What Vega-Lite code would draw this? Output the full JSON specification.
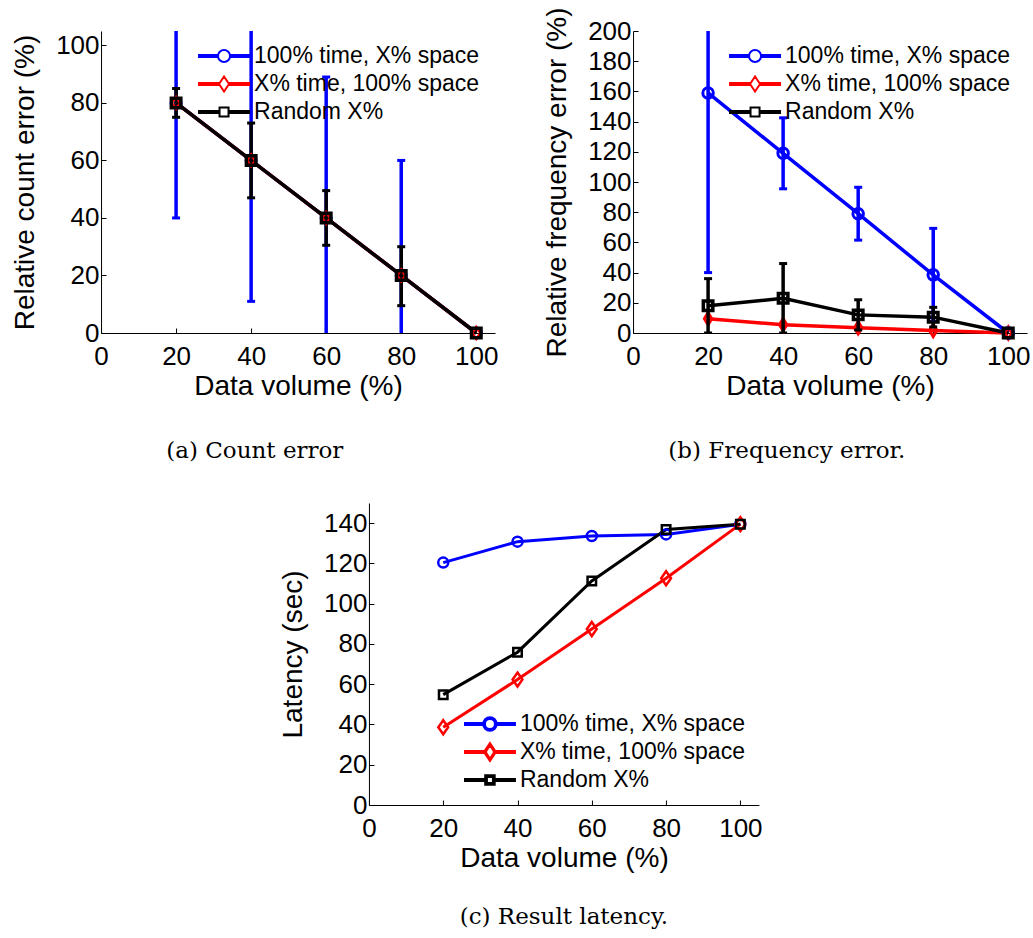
{
"$schema":"https://vega.github.io/schema/vega-lite/v6.json",
"background":"white",
"padding":{"left":11,"top":6,"right":5,"bottom":5},
"datasets":{
"count":[
{"series":"100% time, X% space","x":20,"y":80,"lo":40,"hi":120},
{"series":"100% time, X% space","x":40,"y":60,"lo":11,"hi":109},
{"series":"100% time, X% space","x":60,"y":40,"lo":-9,"hi":89},
{"series":"100% time, X% space","x":80,"y":20,"lo":-20,"hi":60},
{"series":"100% time, X% space","x":100,"y":0},
{"series":"X% time, 100% space","x":20,"y":80},
{"series":"X% time, 100% space","x":40,"y":60},
{"series":"X% time, 100% space","x":60,"y":40},
{"series":"X% time, 100% space","x":80,"y":20},
{"series":"X% time, 100% space","x":100,"y":0},
{"series":"Random X%","x":20,"y":80,"lo":75,"hi":85},
{"series":"Random X%","x":40,"y":60,"lo":47,"hi":73},
{"series":"Random X%","x":60,"y":40,"lo":30.5,"hi":49.5},
{"series":"Random X%","x":80,"y":20,"lo":9.5,"hi":30},
{"series":"Random X%","x":100,"y":0}
],
"freq":[
{"series":"100% time, X% space","x":20,"y":159,"lo":40,"hi":278},
{"series":"100% time, X% space","x":40,"y":119,"lo":95.5,"hi":142.5},
{"series":"100% time, X% space","x":60,"y":79,"lo":61.5,"hi":96.5},
{"series":"100% time, X% space","x":80,"y":38.5,"lo":7.7,"hi":69.3},
{"series":"100% time, X% space","x":100,"y":0},
{"series":"X% time, 100% space","x":20,"y":9.5},
{"series":"X% time, 100% space","x":40,"y":5.5},
{"series":"X% time, 100% space","x":60,"y":3.5},
{"series":"X% time, 100% space","x":80,"y":1.7},
{"series":"X% time, 100% space","x":100,"y":0},
{"series":"Random X%","x":20,"y":18,"lo":0,"hi":36},
{"series":"Random X%","x":40,"y":23,"lo":0,"hi":46},
{"series":"Random X%","x":60,"y":12,"lo":2,"hi":22},
{"series":"Random X%","x":80,"y":10.5,"lo":4,"hi":17},
{"series":"Random X%","x":100,"y":0}
],
"latency":[
{"series":"100% time, X% space","x":20,"y":120.4},
{"series":"100% time, X% space","x":40,"y":130.8},
{"series":"100% time, X% space","x":60,"y":133.6},
{"series":"100% time, X% space","x":80,"y":134.4},
{"series":"100% time, X% space","x":100,"y":139.5},
{"series":"X% time, 100% space","x":20,"y":38.6},
{"series":"X% time, 100% space","x":40,"y":62.3},
{"series":"X% time, 100% space","x":60,"y":87.4},
{"series":"X% time, 100% space","x":80,"y":112.6},
{"series":"X% time, 100% space","x":100,"y":139.5},
{"series":"Random X%","x":20,"y":54.8},
{"series":"Random X%","x":40,"y":75.9},
{"series":"Random X%","x":60,"y":111.3},
{"series":"Random X%","x":80,"y":136.8},
{"series":"Random X%","x":100,"y":139.5}
]
},
"vconcat":[
{"hconcat":[
{
"width":394,"height":302,
"data":{"name":"count"},
"title":{"text":"(a) Count error","orient":"bottom","anchor":"middle","frame":"bounds","offset":40},
"encoding":{
"x":{"field":"x","type":"quantitative","scale":{"domain":[0,105],"nice":false,"zero":false},"axis":{"values":[0,20,40,60,80,100]},"title":"Data volume (%)"},
"y":{"field":"y","type":"quantitative","scale":{"domain":[0,105],"nice":false,"zero":false},"axis":{"values":[0,20,40,60,80,100]},"title":"Relative count error (%)"}
},
"layer":[
{"encoding":{"stroke":{"field":"series","type":"nominal","scale":{"domain":["Random X%","X% time, 100% space","100% time, X% space"],"range":["#000000","#ff0000","#0000ff"]},"legend":null}},
"layer":[
{"transform":[{"filter":"isValid(datum.lo)"}],"mark":{"type":"rule","strokeWidth":3.5,"clip":true},"encoding":{"y":{"field":"lo","type":"quantitative","scale":{"domain":[0,105],"nice":false,"zero":false},"title":"Relative count error (%)"},"y2":{"field":"hi"}}},
{"transform":[{"filter":"isValid(datum.lo)"}],"mark":{"type":"point","shape":"M-1,0H1","size":64,"strokeWidth":3,"filled":false,"opacity":1,"clip":true},"encoding":{"y":{"field":"lo","type":"quantitative","scale":{"domain":[0,105],"nice":false,"zero":false},"title":"Relative count error (%)"}}},
{"transform":[{"filter":"isValid(datum.hi)"}],"mark":{"type":"point","shape":"M-1,0H1","size":64,"strokeWidth":3,"filled":false,"opacity":1,"clip":true},"encoding":{"y":{"field":"hi","type":"quantitative","scale":{"domain":[0,105],"nice":false,"zero":false},"title":"Relative count error (%)"}}},
{"mark":{"type":"line","strokeWidth":3.5}},
{"transform":[{"filter":"datum.series === '100% time, X% space'"}],"mark":{"type":"point","shape":"circle","size":100,"strokeWidth":3,"filled":false,"opacity":1}},
{"transform":[{"filter":"datum.series === 'X% time, 100% space'"}],"mark":{"type":"point","shape":"M0,-1L0.7,0L0,1L-0.7,0Z","size":144,"strokeWidth":2.5,"filled":false,"opacity":1}},
{"transform":[{"filter":"datum.series === 'Random X%'"}],"mark":{"type":"point","shape":"square","size":90,"strokeWidth":3.5,"filled":false,"opacity":1}}
]},
{"mark":{"type":"point","opacity":0,"filled":false},"encoding":{
"color":{"field":"series","type":"nominal","scale":{"domain":["100% time, X% space","X% time, 100% space","Random X%"],"range":["#0000ff","#ff0000","#000000"]},"legend":{"title":null,"orient":"none","legendX":97,"legendY":13,"symbolSize":2500,"symbolStrokeWidth":2,"symbolOpacity":1,"symbolFillColor":"transparent","labelFont":"Liberation Sans","labelFontSize":23,"labelColor":"#000","labelLimit":500,"clipHeight":24,"rowPadding":4,"labelOffset":4,"padding":0}},
"shape":{"field":"series","type":"nominal","scale":{"domain":["100% time, X% space","X% time, 100% space","Random X%"],"range":["M-1,-0.04H-0.24V0.04H-1Z M0.24,-0.04H1V0.04H0.24Z M0.24,0A0.24,0.24,0,1,1,-0.24,0A0.24,0.24,0,1,1,0.24,0Z","M-1,-0.04H-0.2V0.04H-1Z M0.2,-0.04H1V0.04H0.2Z M0,-0.3L0.2,0L0,0.3L-0.2,0Z","M-1,-0.04H-0.18V0.04H-1Z M0.18,-0.04H1V0.04H0.18Z M-0.18,-0.18H0.18V0.18H-0.18Z"]},"legend":{"title":null,"orient":"none","legendX":97,"legendY":13,"symbolSize":2500,"symbolStrokeWidth":2,"symbolOpacity":1,"symbolFillColor":"transparent","labelFont":"Liberation Sans","labelFontSize":23,"labelColor":"#000","labelLimit":500,"clipHeight":24,"rowPadding":4,"labelOffset":4,"padding":0}}
}}
]
},
{
"width":394,"height":302,
"data":{"name":"freq"},
"title":{"text":"(b) Frequency error.","orient":"bottom","anchor":"middle","frame":"bounds","offset":40},
"encoding":{
"x":{"field":"x","type":"quantitative","scale":{"domain":[0,105],"nice":false,"zero":false},"axis":{"values":[0,20,40,60,80,100]},"title":"Data volume (%)"},
"y":{"field":"y","type":"quantitative","scale":{"domain":[0,200],"nice":false,"zero":false},"axis":{"values":[0,20,40,60,80,100,120,140,160,180,200]},"title":"Relative frequency error (%)"}
},
"layer":[
{"encoding":{"stroke":{"field":"series","type":"nominal","scale":{"domain":["Random X%","X% time, 100% space","100% time, X% space"],"range":["#000000","#ff0000","#0000ff"]},"legend":null}},
"layer":[
{"mark":{"type":"line","strokeWidth":3.5}},
{"transform":[{"filter":"datum.series === 'X% time, 100% space'"}],"mark":{"type":"point","shape":"M0,-1L0.6,0L0,1L-0.6,0Z","size":150,"strokeWidth":3,"filled":false,"opacity":1}},
{"transform":[{"filter":"isValid(datum.lo)"}],"mark":{"type":"rule","strokeWidth":3.5,"clip":true},"encoding":{"y":{"field":"lo","type":"quantitative","scale":{"domain":[0,200],"nice":false,"zero":false},"title":"Relative frequency error (%)"},"y2":{"field":"hi"}}},
{"transform":[{"filter":"isValid(datum.lo)"}],"mark":{"type":"point","shape":"M-1,0H1","size":64,"strokeWidth":3,"filled":false,"opacity":1,"clip":true},"encoding":{"y":{"field":"lo","type":"quantitative","scale":{"domain":[0,200],"nice":false,"zero":false},"title":"Relative frequency error (%)"}}},
{"transform":[{"filter":"isValid(datum.hi)"}],"mark":{"type":"point","shape":"M-1,0H1","size":64,"strokeWidth":3,"filled":false,"opacity":1,"clip":true},"encoding":{"y":{"field":"hi","type":"quantitative","scale":{"domain":[0,200],"nice":false,"zero":false},"title":"Relative frequency error (%)"}}},
{"transform":[{"filter":"datum.series === '100% time, X% space'"}],"mark":{"type":"point","shape":"circle","size":110,"strokeWidth":3,"filled":false,"opacity":1}},
{"transform":[{"filter":"datum.series === 'Random X%'"}],"mark":{"type":"point","shape":"square","size":90,"strokeWidth":3.5,"filled":false,"opacity":1}}
]},
{"mark":{"type":"point","opacity":0,"filled":false},"encoding":{
"color":{"field":"series","type":"nominal","scale":{"domain":["100% time, X% space","X% time, 100% space","Random X%"],"range":["#0000ff","#ff0000","#000000"]},"legend":{"title":null,"orient":"none","legendX":96,"legendY":13,"symbolSize":2500,"symbolStrokeWidth":2,"symbolOpacity":1,"symbolFillColor":"transparent","labelFont":"Liberation Sans","labelFontSize":23,"labelColor":"#000","labelLimit":500,"clipHeight":24,"rowPadding":4,"labelOffset":4,"padding":0}},
"shape":{"field":"series","type":"nominal","scale":{"domain":["100% time, X% space","X% time, 100% space","Random X%"],"range":["M-1,-0.04H-0.24V0.04H-1Z M0.24,-0.04H1V0.04H0.24Z M0.24,0A0.24,0.24,0,1,1,-0.24,0A0.24,0.24,0,1,1,0.24,0Z","M-1,-0.04H-0.2V0.04H-1Z M0.2,-0.04H1V0.04H0.2Z M0,-0.3L0.2,0L0,0.3L-0.2,0Z","M-1,-0.04H-0.18V0.04H-1Z M0.18,-0.04H1V0.04H0.18Z M-0.18,-0.18H0.18V0.18H-0.18Z"]},"legend":{"title":null,"orient":"none","legendX":96,"legendY":13,"symbolSize":2500,"symbolStrokeWidth":2,"symbolOpacity":1,"symbolFillColor":"transparent","labelFont":"Liberation Sans","labelFontSize":23,"labelColor":"#000","labelLimit":500,"clipHeight":24,"rowPadding":4,"labelOffset":4,"padding":0}}
}}
]
}
],"spacing":45,
"resolve":{"scale":{"color":"independent","shape":"independent","stroke":"independent"},"legend":{"color":"independent","shape":"independent","stroke":"independent"}}},
{
"width":390,"height":302,
"data":{"name":"latency"},
"title":{"text":"(c) Result latency.","orient":"bottom","anchor":"middle","frame":"group","offset":34},
"encoding":{
"x":{"field":"x","type":"quantitative","scale":{"domain":[0,105],"nice":false,"zero":false},"axis":{"values":[0,20,40,60,80,100]},"title":"Data volume (%)"},
"y":{"field":"y","type":"quantitative","scale":{"domain":[0,150],"nice":false,"zero":false},"axis":{"values":[0,20,40,60,80,100,120,140]},"title":"Latency (sec)"}
},
"layer":[
{"encoding":{"stroke":{"field":"series","type":"nominal","scale":{"domain":["Random X%","X% time, 100% space","100% time, X% space"],"range":["#000000","#ff0000","#0000ff"]},"legend":null}},
"layer":[
{"mark":{"type":"line","strokeWidth":3}},
{"transform":[{"filter":"datum.series === '100% time, X% space'"}],"mark":{"type":"point","shape":"circle","size":100,"strokeWidth":2.5,"filled":false,"opacity":1}},
{"transform":[{"filter":"datum.series === 'X% time, 100% space'"}],"mark":{"type":"point","shape":"M0,-1L0.7,0L0,1L-0.7,0Z","size":196,"strokeWidth":2.5,"filled":false,"opacity":1}},
{"transform":[{"filter":"datum.series === 'Random X%'"}],"mark":{"type":"point","shape":"square","size":72,"strokeWidth":2.5,"filled":false,"opacity":1}}
]},
{"mark":{"type":"point","opacity":0,"filled":false},"encoding":{
"color":{"field":"series","type":"nominal","scale":{"domain":["100% time, X% space","X% time, 100% space","Random X%"],"range":["#0000ff","#ff0000","#000000"]},"legend":{"title":null,"orient":"none","legendX":95,"legendY":209,"symbolSize":2500,"symbolStrokeWidth":2,"symbolOpacity":1,"symbolFillColor":"transparent","labelFont":"Liberation Sans","labelFontSize":23,"labelColor":"#000","labelLimit":500,"clipHeight":24,"rowPadding":4,"labelOffset":4,"padding":0}},
"shape":{"field":"series","type":"nominal","scale":{"domain":["100% time, X% space","X% time, 100% space","Random X%"],"range":["M-1,-0.04H-0.27V0.04H-1Z M0.27,-0.04H1V0.04H0.27Z M0.27,0A0.27,0.27,0,1,1,-0.27,0A0.27,0.27,0,1,1,0.27,0Z M0.2,0A0.2,0.2,0,1,1,-0.2,0A0.2,0.2,0,1,1,0.2,0Z","M-1,-0.04H-0.24V0.04H-1Z M0.24,-0.04H1V0.04H0.24Z M0,-0.36L0.24,0L0,0.36L-0.24,0Z M0,-0.27L0.17,0L0,0.27L-0.17,0Z","M-1,-0.04H-0.19V0.04H-1Z M0.19,-0.04H1V0.04H0.19Z M-0.19,-0.19H0.19V0.19H-0.19Z M-0.12,-0.12H0.12V0.12H-0.12Z"]},"legend":{"title":null,"orient":"none","legendX":95,"legendY":209,"symbolSize":2500,"symbolStrokeWidth":2,"symbolOpacity":1,"symbolFillColor":"transparent","labelFont":"Liberation Sans","labelFontSize":23,"labelColor":"#000","labelLimit":500,"clipHeight":24,"rowPadding":4,"labelOffset":4,"padding":0}}
}}
]
}
],
"spacing":40,"center":true,
"resolve":{"scale":{"color":"independent","shape":"independent","stroke":"independent"},"legend":{"color":"independent","shape":"independent","stroke":"independent"}},
"config":{
"view":{"stroke":null},
"axis":{"domainColor":"#000","domainWidth":1,"tickColor":"#000","tickWidth":1,"tickSize":-5,"labelFont":"Liberation Sans","labelFontSize":26,"labelColor":"#000","titleFont":"Liberation Sans","titleFontSize":28,"titleFontWeight":"normal","titleColor":"#000","grid":false,"labelFlush":false,"labelOverlap":false},
"axisX":{"labelPadding":15,"titlePadding":3},
"axisY":{"labelPadding":7,"titlePadding":16},
"title":{"font":"DejaVu Serif","fontSize":23,"fontWeight":"normal","color":"#000"}
}
}
